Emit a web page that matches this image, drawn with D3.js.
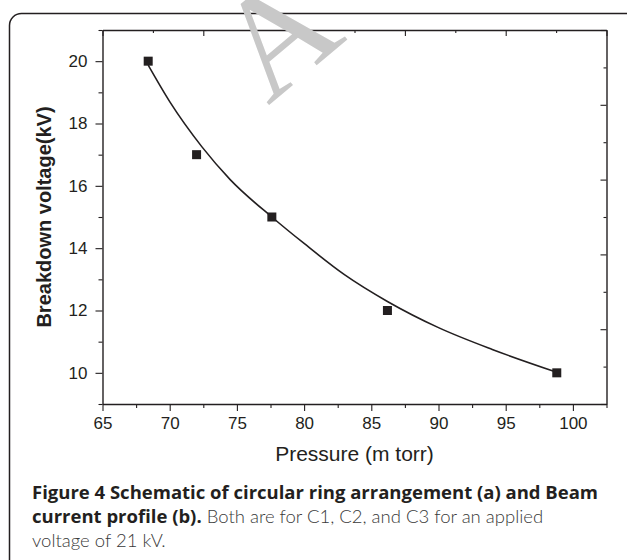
<!DOCTYPE html>
<html><head><meta charset="utf-8">
<script src="https://cdn.jsdelivr.net/npm/d3@7"></script>
<style>body{margin:0;background:#fff}svg{display:block}</style>
</head><body><svg id="c" width="627" height="560"></svg>
<script>
// ---- data ----
const pressure = [68.4, 72.0, 77.6, 86.2, 98.8];
const voltage  = [20, 17, 15, 12, 10];
// fitted curve
const fitPressure = [68.4, 70, 72.4, 74.5, 77.6, 80, 83, 86.2, 90, 94, 98.8];
const fitVoltage  = [19.87, 18.7, 17.25, 16.2, 15.0, 14.15, 13.15, 12.29, 11.45, 10.75, 10.02];
const xTicks = [65, 70, 75, 80, 85, 90, 95, 100];
const xMinor = [67.5, 72.5, 77.5, 82.5, 87.5, 92.5, 97.5, 102.5];
const yTicks = [10, 12, 14, 16, 18, 20];
const yMinor = [9, 11, 13, 15, 17, 19, 21];
const frameMajor = [0, 2, 4, 6, 8, 10];   // top / right axes: ten even steps
const frameMinor = [1, 3, 5, 7, 9];
const xTitle = "Pressure (m torr)";
const yTitle = "Breakdown voltage(kV)";
const captionLines = [
  [{t: "Figure 4 Schematic of circular ring arrangement (a) and Beam", b: true}],
  [{t: "current profile (b).", b: true}, {t: " Both are for C1, C2, and C3 for an applied", b: false}],
  [{t: "voltage of 21 kV.", b: false}]
];

const ink = "#231f20";
const svg = d3.select("#c");

// outer rounded box
svg.append("rect").attr("x", 9.5).attr("y", 13.5).attr("width", 628).attr("height", 600)
  .attr("rx", 12).attr("fill", "none").attr("stroke", ink).attr("stroke-width", 1.5);

const L = 102.5, R = 606.5, T = 30, B = 404;
const x = d3.scaleLinear().domain([65, 102.5]).range([L, R]);
const y = d3.scaleLinear().domain([9, 21]).range([B, T]);
const fx = d3.scaleLinear().domain([0, 10]).range([L, R]);
const fy = d3.scaleLinear().domain([0, 10]).range([B, T]);

function style(g, keepDomain) {
  g.selectAll("path.domain").attr("stroke", ink).attr("stroke-width", 1.4);
  if (!keepDomain) g.selectAll("path.domain").remove();
  g.selectAll(".tick line").attr("stroke", ink).attr("stroke-width", 1.1);
  g.selectAll("text").attr("fill", ink).attr("font-family", "Liberation Sans, Arial, sans-serif").attr("font-size", 17);
}

// bottom
svg.append("g").attr("transform", `translate(0,${B})`)
  .call(d3.axisBottom(x).tickValues(xMinor).tickSize(4).tickSizeOuter(0).tickFormat(""))
  .call(g => style(g, false));
svg.append("g").attr("transform", `translate(0,${B})`)
  .call(d3.axisBottom(x).tickValues(xTicks).tickSize(7).tickPadding(6).tickSizeOuter(0))
  .call(g => style(g, true));
// left
svg.append("g").attr("transform", `translate(${L},0)`)
  .call(d3.axisLeft(y).tickValues(yMinor).tickSize(4).tickSizeOuter(0).tickFormat(""))
  .call(g => style(g, false));
svg.append("g").attr("transform", `translate(${L},0)`)
  .call(d3.axisLeft(y).tickValues(yTicks).tickSize(7).tickPadding(8).tickSizeOuter(0))
  .call(g => style(g, true));
// top (inward ticks)
svg.append("g").attr("transform", `translate(0,${T})`)
  .call(d3.axisTop(fx).tickValues(frameMinor).tickSize(-3).tickSizeOuter(0).tickFormat(""))
  .call(g => style(g, false));
svg.append("g").attr("transform", `translate(0,${T})`)
  .call(d3.axisTop(fx).tickValues(frameMajor).tickSize(-6).tickSizeOuter(0).tickFormat(""))
  .call(g => style(g, true));
// right (inward ticks)
svg.append("g").attr("transform", `translate(${R},0)`)
  .call(d3.axisRight(fy).tickValues(frameMinor).tickSize(-3).tickSizeOuter(0).tickFormat(""))
  .call(g => style(g, false));
svg.append("g").attr("transform", `translate(${R},0)`)
  .call(d3.axisRight(fy).tickValues(frameMajor).tickSize(-6).tickSizeOuter(0).tickFormat(""))
  .call(g => style(g, true));

// fitted curve
const fit = fitPressure.map((p, i) => [p, fitVoltage[i]]);
svg.append("path").datum(fit)
  .attr("d", d3.line().x(d => x(d[0])).y(d => y(d[1])).curve(d3.curveMonotoneX))
  .attr("fill", "none").attr("stroke", ink).attr("stroke-width", 1.6);

// markers
const s = 9;
svg.append("g").selectAll("rect").data(pressure.map((p, i) => [p, voltage[i]])).join("rect")
  .attr("x", d => x(d[0]) - s / 2).attr("y", d => y(d[1]) - s / 2)
  .attr("width", s).attr("height", s).attr("fill", ink);

// axis titles
svg.append("text").attr("x", (L + R) / 2).attr("y", 461).attr("text-anchor", "middle")
  .attr("font-family", "Liberation Sans, Arial, sans-serif").attr("font-size", 21).attr("fill", ink).text(xTitle);
svg.append("text").attr("transform", `translate(51,${(T + B) / 2}) rotate(-90)`).attr("text-anchor", "middle")
  .attr("font-family", "Liberation Sans, Arial, sans-serif").attr("font-weight", "bold").attr("font-size", 20)
  .attr("fill", ink).text(yTitle);

// caption
const cap = svg.append("g").attr("font-size", 18.5);
captionLines.forEach((line, i) => {
  const t = cap.append("text").attr("x", 32).attr("y", 499 + i * 24);
  line.forEach(seg => t.append("tspan")
    .attr("font-family", seg.b ? "Open Sans, sans-serif" : "Lato, sans-serif")
    .attr("font-weight", seg.b ? "bold" : 300)
    .attr("fill", seg.b ? ink : "#3a3a3a").text(seg.t));
});

// watermark
svg.append("text").attr("transform", "translate(268,106) rotate(-40)")
  .attr("font-family", "Liberation Serif, serif").attr("font-size", 145).attr("fill", "#c8c8c8").text("A");
</script></body></html>
